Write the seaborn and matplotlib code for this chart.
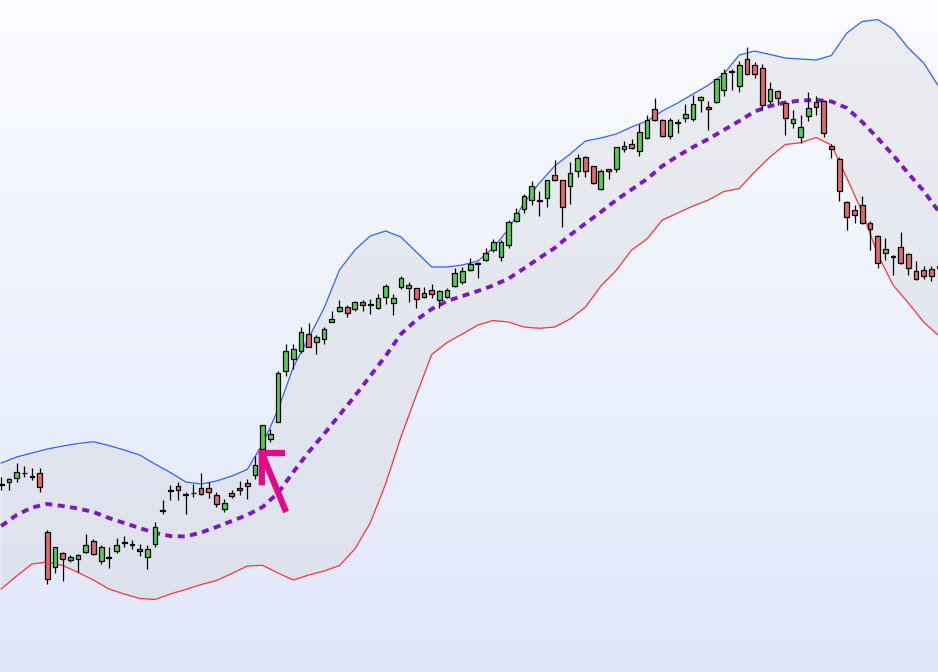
import numpy as np
import pandas as pd
import matplotlib
matplotlib.use("Agg")
import matplotlib.pyplot as plt
import seaborn as sns
from matplotlib.colors import LinearSegmentedColormap

# ----------------------------
# Daily candles (OHLC)
# ----------------------------
opens = [215.5, 217.7, 221.7, 226.7, 223.0, 226.7, 167.7, 132.7, 146.7, 139.7,
         140.7, 148.3, 158.7, 138.7, 142.5, 148.7, 157.5, 155.5, 151.0, 142.7,
         155.7, 189.0, 209.0, 213.7, 205.0, 206.7, 211.7, 211.7, 204.7, 190.7,
         206.7, 211.7, 216.7, 224.7, 250.7, 260.7, 278.3, 328.7, 340.7, 348.7,
         365.7, 357.7, 360.7, 377.7, 388.7, 392.7, 390.7, 397.7, 395.5, 391.7,
         402.7, 396.7, 412.7, 411.7, 411.7, 402.7, 409.7, 399.7, 402.7, 413.7,
         417.7, 429.7, 436.5, 439.7, 449.7, 442.7, 454.7, 478.7, 490.7, 499.7,
         499.5, 501.7, 524.7, 519.7, 513.7, 528.7, 542.7, 533.7, 510.7, 530.7,
         530.7, 550.7, 555.7, 548.7, 561.7, 590.7, 579.7, 563.7, 577.5, 581.7,
         580.7, 599.7, 592.7, 597.7, 609.7, 627.8, 613.7, 640.7, 634.7, 631.7,
         598.7, 608.7, 596.7, 576.7, 562.7, 583.7, 597.7, 598.7, 553.7, 540.7,
         497.7, 489.7, 494.7, 476.7, 463.7, 446.7, 443.5, 452.7, 445.7, 428.7,
         429.7, 430.7, 434.0]
highs = [223.0, 222.5, 236.7, 234.0, 231.7, 231.7, 170.0, 153.3, 148.3, 144.7,
         146.0, 166.0, 161.0, 155.0, 152.7, 162.0, 163.7, 160.0, 156.0, 155.3,
         178.0, 200.0, 215.0, 218.0, 208.0, 216.0, 227.0, 218.0, 208.0, 200.7,
         209.7, 218.7, 220.7, 243.7, 275.0, 270.7, 329.0, 356.0, 356.0, 372.7,
         376.7, 364.7, 372.7, 388.7, 399.7, 394.7, 398.7, 399.7, 400.7, 405.7,
         415.7, 405.7, 423.7, 417.7, 412.0, 412.7, 415.7, 409.7, 411.7, 431.7,
         432.7, 441.7, 437.7, 451.7, 460.7, 459.7, 480.0, 491.7, 505.7, 518.7,
         508.7, 519.7, 539.7, 520.0, 537.7, 545.7, 543.7, 534.0, 530.7, 531.0,
         553.0, 558.7, 560.7, 575.7, 584.7, 601.7, 580.7, 581.7, 580.7, 595.7,
         604.7, 603.7, 598.7, 621.0, 630.7, 630.7, 638.7, 652.7, 637.7, 635.7,
         617.7, 609.7, 597.7, 589.7, 584.7, 607.7, 603.7, 599.7, 555.7, 542.7,
         498.7, 494.7, 503.7, 478.7, 464.7, 461.7, 444.7, 467.7, 446.7, 438.7,
         433.7, 433.7, 436.7]
lows = [210.0, 210.0, 218.3, 223.3, 220.0, 208.3, 116.0, 127.3, 119.3, 138.3,
        128.3, 147.3, 145.3, 135.7, 131.7, 146.7, 153.3, 151.3, 144.3, 131.3,
        153.3, 186.0, 200.0, 200.0, 186.0, 203.0, 205.5, 201.7, 193.3, 187.7,
        201.7, 204.7, 201.0, 220.7, 238.0, 258.0, 278.0, 324.0, 330.7, 346.7,
        352.7, 345.7, 355.7, 377.7, 387.7, 382.7, 388.7, 388.7, 385.7, 390.7,
        395.7, 384.7, 410.7, 397.7, 391.7, 402.5, 401.7, 391.7, 402.5, 413.5,
        415.7, 428.7, 421.7, 439.5, 447.7, 438.7, 451.7, 477.7, 486.7, 494.7,
        483.7, 492.7, 519.5, 472.7, 495.7, 522.7, 522.7, 515.7, 510.5, 520.7,
        527.7, 547.7, 550.7, 543.7, 561.5, 578.7, 562.7, 560.7, 566.7, 577.7,
        578.7, 587.7, 569.7, 597.5, 603.7, 609.7, 607.7, 624.7, 621.7, 589.7,
        595.7, 594.7, 564.7, 571.7, 556.7, 578.7, 584.7, 562.7, 541.7, 498.7,
        469.7, 476.7, 476.5, 449.7, 431.7, 439.7, 424.7, 435.7, 424.7, 420.5,
        420.7, 418.7, 430.0]
closes = [216.0, 220.7, 227.7, 227.0, 223.3, 213.3, 120.7, 152.7, 140.7, 143.0,
          144.7, 154.7, 146.0, 152.7, 142.3, 154.7, 157.7, 155.3, 148.7, 151.3,
          172.7, 189.2, 209.2, 209.7, 205.2, 206.9, 205.7, 207.7, 195.7, 196.7,
          203.7, 209.7, 213.7, 234.7, 274.7, 265.7, 326.7, 348.7, 350.7, 367.7,
          352.7, 362.7, 370.7, 380.7, 392.7, 386.7, 397.7, 394.7, 395.7, 401.7,
          413.7, 401.7, 421.7, 414.7, 400.7, 406.7, 405.7, 408.7, 409.7, 426.7,
          428.7, 435.7, 436.7, 446.7, 457.7, 457.7, 477.7, 486.7, 503.7, 513.7,
          499.7, 519.7, 519.7, 492.7, 526.7, 541.7, 528.7, 516.7, 528.7, 528.7,
          552.7, 553.7, 551.7, 567.7, 579.7, 579.7, 563.7, 579.7, 577.7, 585.7,
          595.7, 602.7, 590.7, 620.7, 626.7, 628.0, 634.7, 625.7, 625.7, 594.7,
          610.7, 601.7, 581.7, 580.7, 572.7, 591.7, 592.7, 566.7, 550.7, 508.7,
          482.7, 484.7, 476.7, 470.7, 436.7, 450.7, 443.7, 436.7, 431.7, 420.7,
          423.7, 423.7, 432.0]

# ----------------------------
# Bollinger bands (every 2nd bar)
# ----------------------------
band_bars = list(range(0, 123, 2))
upper = [237, 243, 247, 251, 254, 256.5, 258.3, 254.5, 250, 245,
         236, 227.5, 218, 216, 219, 224, 230.5, 256, 290, 333,
         362, 392, 430, 450, 464, 469, 463, 448, 433, 433,
         435, 439, 452, 471, 497, 517, 534, 546, 559, 562,
         566, 573, 579, 589, 597, 606, 615, 626, 645, 649,
         645.5, 642, 641, 640, 644.5, 667, 678.5, 680.5, 671, 652,
         637, 613]
middle = [174, 185, 192.5, 196, 194, 191.5, 188, 182, 177, 172,
          167, 164, 163.5, 167.5, 173, 179, 185, 193, 207, 228,
          248, 266, 285, 304, 324, 344, 366, 380, 391, 399,
          404, 409, 414.5, 421.5, 431.5, 442, 452, 465, 476.5, 488,
          500, 510.5, 521, 534, 544, 553, 561, 570, 579, 588.5,
          594, 597.5, 599.5, 600, 598.5, 592, 578, 562, 545, 526.5,
          509, 488]
lower = [111, 124, 136, 138, 134.5, 127.5, 120, 111, 106, 101.5,
         100.5, 106, 110.5, 115.5, 119.5, 126.5, 134, 134.7, 127, 120,
         125, 129, 134.5, 151, 177, 216, 263, 305, 345.5, 357.5,
         366, 375, 379.5, 378, 373, 371.7, 373, 381, 393, 414,
         429.5, 450, 461, 480, 487, 494, 500, 508.5, 511.5, 528,
         543, 555.5, 557.3, 562.5, 555, 522, 488, 446, 415, 397,
         378, 364]

GREEN = "#4fd14f"
RED = "#e26a6c"

bands = pd.DataFrame({"bar": band_bars, "upper": upper,
                      "middle": middle, "lower": lower})

fig = plt.figure(figsize=(9.38, 6.72), dpi=100)
ax = fig.add_axes([0, 0, 1, 1])

xlim = (-0.16, 121.86)
ylim = (28, 700)

# background gradient
bg = LinearSegmentedColormap.from_list("bg", ["#fbfcff", "#dfe7fb"])
ax.imshow(np.linspace(0, 1, 256).reshape(-1, 1), cmap=bg, aspect="auto",
          extent=(xlim[0], xlim[1], ylim[0], ylim[1]), zorder=0)

# band area + lines
ax.fill_between(bands["bar"], bands["lower"], bands["upper"],
                color="#d6d7dc", alpha=0.4, lw=0, zorder=1)
sns.lineplot(data=bands, x="bar", y="upper", color="#2f62ff", lw=0.9, ax=ax, zorder=2)
sns.lineplot(data=bands, x="bar", y="lower", color="#ff3434", lw=0.9, ax=ax, zorder=2)
sns.lineplot(data=bands, x="bar", y="middle", color="#7d16c9", lw=2.8,
             linestyle=(0, (1.8, 1.4)), ax=ax, zorder=2)

# candles
o = np.array(opens)
c = np.array(closes)
bars = np.arange(len(o))
up = c >= o
body_low = np.minimum(o, c)
body_h = np.maximum(np.abs(c - o), 0.8)
ax.vlines(bars, lows, highs, color="black", lw=0.9, zorder=3)
ax.bar(bars, body_h, bottom=body_low, width=0.62,
       color=np.where(up, GREEN, RED), edgecolor="black", linewidth=0.9, zorder=4)

# pink arrow pointing at the breakout candle
tip = (33.9, 247)
pink = "#e5098a"
ax.annotate("", xy=tip, xytext=(17.5, -42.5), textcoords="offset points",
            arrowprops=dict(arrowstyle="-", color=pink, lw=4.5,
                            shrinkA=0, shrinkB=0, capstyle="butt"), zorder=6)
for off in [(14.5, 0), (0, -21)]:
    ax.annotate("", xy=tip, xytext=off, textcoords="offset points",
                arrowprops=dict(arrowstyle="-", color=pink, lw=4.5,
                                shrinkA=0, shrinkB=0, capstyle="projecting"),
                zorder=6)

ax.set_xlim(*xlim)
ax.set_ylim(*ylim)
ax.axis("off")

fig.savefig("out.png", dpi=100)
plt.close(fig)
